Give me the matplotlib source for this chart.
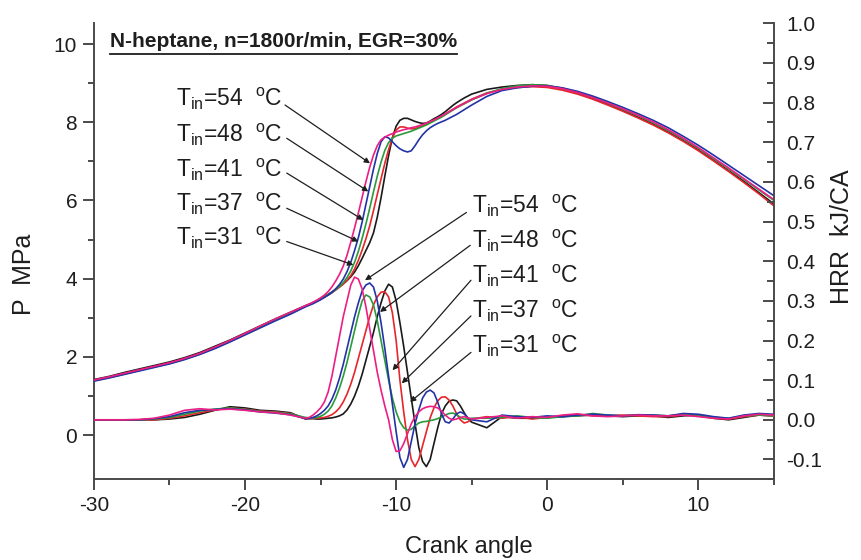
import numpy as np
import matplotlib
matplotlib.use("Agg")
import matplotlib.pyplot as plt
from matplotlib.lines import Line2D

plt.rcParams['font.family'] = ['Liberation Sans', 'DejaVu Sans']
plt.rcParams['mathtext.fontset'] = 'custom'
plt.rcParams['mathtext.rm'] = 'Liberation Sans'
plt.rcParams['mathtext.it'] = 'Liberation Sans'

# ---------------- data ----------------
crank_angle = np.concatenate([np.arange(-30, -16.5, 1.0),
                              np.arange(-16, -4.9, 0.25),
                              np.arange(-4, 15.5, 1.0)])

temps = ['54', '48', '41', '37', '31']
colors = ['#ec1e84', '#2333a6', '#2a9a3c', '#e5262b', '#1a1a1a']

P_54 = [1.41, 1.49, 1.58, 1.67, 1.76, 1.85, 1.96, 2.09, 2.25, 2.42, 2.60, 2.79, 2.97, 3.14,
        3.31, 3.35, 3.40, 3.45, 3.51, 3.58, 3.67, 3.79, 3.94, 4.11, 4.32, 4.60, 4.94, 5.30, 5.68,
        6.08, 6.48, 6.85, 7.16, 7.40, 7.55, 7.62, 7.67, 7.71, 7.75, 7.78, 7.81, 7.83, 7.86, 7.88,
        7.91, 7.94, 7.98, 8.02, 8.06, 8.11, 8.16, 8.21, 8.27, 8.32, 8.38, 8.43, 8.48, 8.53, 8.58,
        8.73, 8.84, 8.90, 8.93, 8.92, 8.86, 8.76, 8.63, 8.49, 8.34, 8.18, 8.01, 7.81, 7.59, 7.35,
        7.09, 6.83, 6.56, 6.29, 6.02]
P_48 = [1.38, 1.46, 1.55, 1.64, 1.73, 1.82, 1.93, 2.06, 2.21, 2.38, 2.56, 2.74, 2.92, 3.09,
        3.28, 3.32, 3.36, 3.41, 3.46, 3.52, 3.58, 3.65, 3.74, 3.85, 3.99, 4.18, 4.42, 4.72, 5.05,
        5.45, 5.90, 6.35, 6.80, 7.20, 7.50, 7.63, 7.60, 7.50, 7.40, 7.32, 7.27, 7.24, 7.27, 7.40,
        7.55, 7.68, 7.78, 7.86, 7.92, 7.97, 8.01, 8.05, 8.10, 8.15, 8.20, 8.26, 8.32, 8.38, 8.44,
        8.66, 8.81, 8.88, 8.92, 8.93, 8.88, 8.79, 8.67, 8.53, 8.38, 8.22, 8.05, 7.86, 7.64, 7.41,
        7.16, 6.90, 6.64, 6.38, 6.12]
P_41 = [1.39, 1.47, 1.56, 1.65, 1.74, 1.83, 1.94, 2.07, 2.23, 2.40, 2.58, 2.77, 2.95, 3.12,
        3.30, 3.34, 3.38, 3.43, 3.48, 3.53, 3.59, 3.65, 3.72, 3.80, 3.90, 4.03, 4.20, 4.42, 4.70,
        5.03, 5.40, 5.80, 6.22, 6.62, 6.98, 7.28, 7.48, 7.59, 7.65, 7.68, 7.71, 7.74, 7.77, 7.81,
        7.85, 7.89, 7.93, 7.98, 8.03, 8.08, 8.13, 8.19, 8.25, 8.31, 8.37, 8.42, 8.47, 8.52, 8.57,
        8.74, 8.86, 8.93, 8.96, 8.94, 8.87, 8.77, 8.64, 8.49, 8.33, 8.17, 7.99, 7.79, 7.57, 7.33,
        7.07, 6.81, 6.54, 6.27, 6.00]
P_37 = [1.40, 1.48, 1.57, 1.66, 1.75, 1.84, 1.95, 2.08, 2.23, 2.40, 2.58, 2.77, 2.95, 3.12,
        3.30, 3.34, 3.38, 3.43, 3.48, 3.53, 3.58, 3.64, 3.71, 3.78, 3.86, 3.96, 4.08, 4.25, 4.47,
        4.73, 5.02, 5.35, 5.74, 6.15, 6.55, 6.95, 7.30, 7.60, 7.80, 7.88, 7.88, 7.85, 7.83, 7.84,
        7.87, 7.91, 7.95, 8.00, 8.05, 8.10, 8.15, 8.21, 8.27, 8.33, 8.39, 8.44, 8.49, 8.54, 8.59,
        8.75, 8.84, 8.89, 8.91, 8.89, 8.82, 8.72, 8.59, 8.44, 8.28, 8.11, 7.93, 7.73, 7.51, 7.27,
        7.01, 6.74, 6.46, 6.17, 5.86]
P_31 = [1.42, 1.50, 1.60, 1.69, 1.78, 1.87, 1.98, 2.11, 2.27, 2.43, 2.61, 2.79, 2.97, 3.14,
        3.31, 3.35, 3.39, 3.44, 3.49, 3.54, 3.60, 3.66, 3.73, 3.80, 3.87, 3.95, 4.05, 4.17, 4.33,
        4.52, 4.72, 4.92, 5.17, 5.57, 6.07, 6.62, 7.15, 7.60, 7.90, 8.05, 8.10, 8.10, 8.06, 8.02,
        7.99, 7.97, 7.98, 8.03, 8.09, 8.14, 8.20, 8.27, 8.35, 8.43, 8.50, 8.56, 8.62, 8.67, 8.72,
        8.84, 8.90, 8.94, 8.96, 8.94, 8.86, 8.75, 8.61, 8.46, 8.30, 8.13, 7.95, 7.75, 7.53, 7.29,
        7.03, 6.76, 6.49, 6.20, 5.91]

HRR_54 = [0.0, 0.0, 0.0, 0.001, 0.004, 0.012, 0.024, 0.028, 0.025, 0.027, 0.024, 0.02, 0.018, 0.012,
          0.004, 0.006, 0.012, 0.02, 0.03, 0.045, 0.07, 0.11, 0.16, 0.21,
          0.26, 0.30, 0.34, 0.36, 0.355, 0.33, 0.285, 0.23, 0.175, 0.12,
          0.075, 0.035, 0.0, -0.05, -0.08, -0.078, -0.06, -0.035, -0.01, 0.008,
          0.02, 0.028, 0.032, 0.034, 0.033, 0.03, 0.022, 0.012, 0.004, 0.0,
          0.002, 0.006, 0.008, 0.005, 0.002,
          0.006, 0.01, 0.004, 0.008, 0.006, 0.012, 0.015, 0.01, 0.008, 0.01,
          0.012, 0.01, 0.01, 0.012, 0.008, 0.004, 0.002, 0.01, 0.014, 0.012]
HRR_48 = [0.0, 0.0, 0.0, 0.0, 0.003, 0.008, 0.018, 0.024, 0.026, 0.028, 0.025, 0.02, 0.017, 0.013,
          0.003, 0.004, 0.006, 0.01, 0.016, 0.024, 0.035, 0.052, 0.075, 0.105,
          0.14, 0.18, 0.22, 0.26, 0.295, 0.325, 0.34, 0.345, 0.335, 0.30,
          0.245, 0.18, 0.11, 0.04, -0.03, -0.095, -0.12, -0.1, -0.055, -0.01,
          0.025, 0.055, 0.07, 0.075, 0.068, 0.045, 0.015, -0.005, -0.008, 0.002,
          0.015, 0.02, 0.015, 0.005, 0.0,
          -0.005, 0.012, 0.008, 0.006, 0.01, 0.008, 0.012, 0.014, 0.012, 0.01,
          0.013, 0.012, 0.01, 0.016, 0.014, 0.008, 0.004, 0.012, 0.016, 0.014]
HRR_41 = [0.0, 0.0, 0.0, 0.0, 0.002, 0.006, 0.014, 0.022, 0.027, 0.03, 0.026, 0.021, 0.019, 0.015,
          0.006, 0.005, 0.005, 0.006, 0.009, 0.014, 0.022, 0.035, 0.055, 0.08,
          0.11, 0.145, 0.185, 0.225, 0.265, 0.30, 0.315, 0.31, 0.29, 0.25,
          0.2, 0.15, 0.1, 0.055, 0.02, -0.005, -0.02, -0.026, -0.024, -0.015,
          -0.008, -0.005, -0.004, -0.002, 0.0, 0.003, 0.007, 0.012, 0.016, 0.017,
          0.013, 0.006, 0.002, 0.002, 0.004,
          0.004, 0.006, 0.01, 0.006, 0.004, 0.008, 0.01, 0.016, 0.012, 0.01,
          0.012, 0.012, 0.01, 0.014, 0.012, 0.006, 0.004, 0.01, 0.012, 0.01]
HRR_37 = [0.0, 0.0, 0.0, 0.0, 0.0, 0.004, 0.01, 0.018, 0.025, 0.03, 0.027, 0.022, 0.02, 0.016,
          0.003, 0.003, 0.004, 0.004, 0.005, 0.006, 0.009, 0.013, 0.02, 0.03,
          0.045, 0.065, 0.09, 0.12, 0.155, 0.19, 0.225, 0.26, 0.29, 0.31,
          0.322, 0.323, 0.31, 0.27, 0.2, 0.1, 0.02, -0.05, -0.1, -0.118,
          -0.1, -0.065, -0.03, 0.005, 0.03, 0.048, 0.057, 0.058, 0.05, 0.035,
          0.015, 0.0, -0.008, -0.005, 0.002,
          0.008, 0.004, 0.008, 0.002, 0.006, 0.01, 0.014, 0.01, 0.01, 0.012,
          0.01, 0.008, 0.008, 0.012, 0.01, 0.004, 0.002, 0.008, 0.012, 0.01]
HRR_31 = [0.0, 0.0, 0.0, 0.0, 0.0, 0.002, 0.006, 0.014, 0.024, 0.033, 0.03, 0.024, 0.022, 0.018,
          0.002, 0.003, 0.003, 0.002, 0.002, 0.003, 0.004, 0.005, 0.007, 0.01,
          0.015, 0.025, 0.04, 0.06, 0.085, 0.115, 0.15, 0.185, 0.22, 0.26,
          0.295, 0.325, 0.342, 0.335, 0.30, 0.245, 0.185, 0.12, 0.055, -0.01,
          -0.07, -0.105, -0.118, -0.1, -0.06, -0.02, 0.015, 0.035, 0.047, 0.05,
          0.048, 0.035, 0.018, 0.003, -0.006,
          -0.02, 0.008, 0.004, 0.004, 0.006, 0.008, 0.01, 0.012, 0.01, 0.008,
          0.01, 0.01, 0.006, 0.01, 0.012, 0.004, 0.0, 0.006, 0.012, 0.01]

pressure = [P_54, P_48, P_41, P_37, P_31]
hrr = [HRR_54, HRR_48, HRR_41, HRR_37, HRR_31]

x_ticks = [-30, -20, -10, 0, 10]
x_tick_labels = ['-30', '-20', '-10', '0', '10']
p_ticks = [0, 2, 4, 6, 8, 10]
p_tick_labels = ['0', '2', '4', '6', '8', '10']
hrr_ticks = [-0.1, 0.0, 0.1, 0.2, 0.3, 0.4, 0.5, 0.6, 0.7, 0.8, 0.9, 1.0]
hrr_tick_labels = ['-0.1', '0.0', '0.1', '0.2', '0.3', '0.4', '0.5', '0.6', '0.7', '0.8', '0.9', '1.0']

title = 'N-heptane, n=1800r/min, EGR=30%'

# annotation anchors (label position, arrow tail, arrow tip)
upper_label_y = [8.40, 7.50, 6.61, 5.73, 4.85]
upper_tail = [(-17.35, 8.44), (-17.24, 7.59), (-17.24, 6.70), (-17.24, 5.80), (-17.24, 4.95)]
upper_tip = [(-11.73, 6.95), (-11.84, 6.23), (-12.17, 5.50), (-12.50, 4.95), (-12.83, 4.35)]
lower_label_y = [0.521, 0.433, 0.345, 0.257, 0.168]
lower_tail = [(-5.35, 0.523), (-5.10, 0.440), (-5.05, 0.352), (-5.05, 0.262), (-5.05, 0.170)]
lower_tip = [(-12.06, 0.352), (-11.07, 0.272), (-10.24, 0.125), (-9.63, 0.092), (-9.08, 0.045)]

# ---------------- figure ----------------
fig = plt.figure(figsize=(8.62, 5.6), dpi=100)
ax1 = fig.add_axes([0.1089, 0.1441, 0.7890, 0.8143])
ax2 = ax1.twinx()

spine_c = '#4a4a4a'
text_c = '#1e1e1e'
for c, p in zip(colors[::-1], pressure[::-1]):
    ax1.plot(crank_angle, p, color=c, lw=1.2, zorder=3)
for c, h in zip(colors[::-1], hrr[::-1]):
    ax2.plot(crank_angle, h, color=c, lw=1.2, zorder=3)

ax1.set_xlim(-30, 15)
ax1.set_ylim(-1.13, 10.53)
ax2.set_ylim(-0.15, 1.0)

for a in (ax1, ax2):
    a.spines['top'].set_visible(False)
    for s in a.spines.values():
        s.set_color(spine_c)
        s.set_linewidth(1.4)
ax1.spines['right'].set_visible(False)
ax2.spines['left'].set_visible(False)
ax2.spines['bottom'].set_visible(False)

ax1.set_xticks(x_ticks)
ax1.set_xticklabels(x_tick_labels)
ax1.set_xticks([-25, -15, -5, 5, 15], minor=True)
ax1.set_yticks(p_ticks)
ax1.set_yticklabels(p_tick_labels)
ax1.set_yticks([1, 3, 5, 7, 9], minor=True)
ax2.set_yticks(hrr_ticks)
ax2.set_yticklabels(hrr_tick_labels)
ax2.set_yticks([-0.15, -0.05, 0.05, 0.15, 0.25, 0.35, 0.45, 0.55, 0.65, 0.75, 0.85, 0.95], minor=True)

ax1.tick_params(axis='both', which='major', direction='out', length=8, width=1.4,
                color=spine_c, labelsize=15, labelcolor=text_c, pad=4)
ax1.tick_params(axis='both', which='minor', direction='out', length=4.5, width=1.4, color=spine_c)
ax2.tick_params(axis='y', which='major', direction='in', length=8, width=1.4,
                color=spine_c, labelsize=15, labelcolor=text_c, pad=9)
ax2.tick_params(axis='y', which='minor', direction='in', length=5, width=1.4, color=spine_c)

ax1.set_xlabel('Crank angle', fontsize=17, color=text_c)
ax1.xaxis.set_label_coords(0.552, -0.125)
ax1.set_ylabel('P  MPa', fontsize=18, color=text_c)
ax1.yaxis.set_label_coords(-0.085, 0.45)
ax2.set_ylabel('HRR  kJ/CA', fontsize=18, color=text_c)
ax2.yaxis.set_label_coords(1.082, 0.533)

# title with underline
t = ax1.text(-28.93, 9.92, title, fontsize=15, fontweight='bold', color=text_c,
             ha='left', va='baseline', zorder=5)


def label(T):
    return r'T$_{\rm in}$=' + T + r'  $^{\rm o}$C'


for i, T in enumerate(temps):
    ax1.text(-17.55, upper_label_y[i], label(T), fontsize=16.5, ha='right', va='baseline',
             color=text_c, zorder=5)
    ax1.annotate('', xy=upper_tip[i], xytext=upper_tail[i],
                 arrowprops=dict(arrowstyle='-|>', color=text_c, lw=0.9,
                                 mutation_scale=8, shrinkA=0, shrinkB=0), zorder=6)
    ax2.text(-4.95, lower_label_y[i], label(T), fontsize=16.5, ha='left', va='baseline',
             color=text_c, zorder=5)
    ax2.annotate('', xy=lower_tip[i], xytext=lower_tail[i],
                 arrowprops=dict(arrowstyle='-|>', color=text_c, lw=0.9,
                                 mutation_scale=8, shrinkA=0, shrinkB=0), zorder=6)

fig.canvas.draw()
bb = t.get_window_extent(renderer=fig.canvas.get_renderer())
inv = fig.transFigure.inverted()
(x0, y0), (x1, y1) = inv.transform([(bb.x0, bb.y0), (bb.x1, bb.y0)])
fig.add_artist(Line2D([x0, x1], [y0 - 0.005, y0 - 0.005], transform=fig.transFigure,
                      color=text_c, lw=1.3))

fig.savefig('out.png', dpi=100)
